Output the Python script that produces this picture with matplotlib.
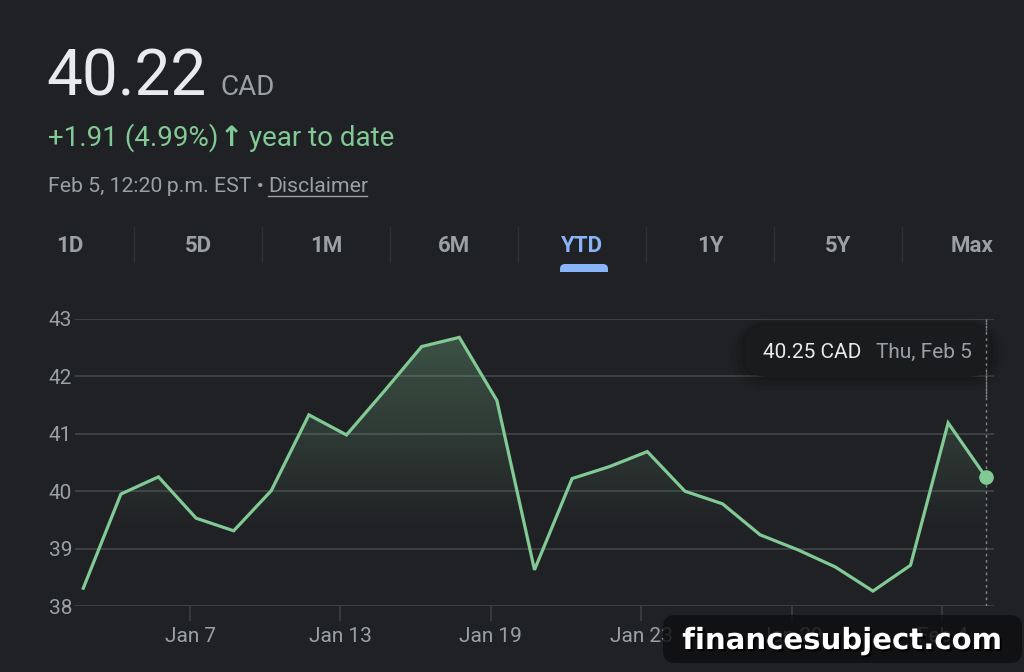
import numpy as np
import matplotlib
matplotlib.use("Agg")
import matplotlib.pyplot as plt
from matplotlib.patches import FancyBboxPatch
import matplotlib.patheffects as pe

# data
dates = ['Jan 2', 'Jan 5', 'Jan 6', 'Jan 7', 'Jan 8', 'Jan 9', 'Jan 12', 'Jan 13', 'Jan 14',
         'Jan 15', 'Jan 16', 'Jan 19', 'Jan 20', 'Jan 21', 'Jan 22', 'Jan 23', 'Jan 26',
         'Jan 27', 'Jan 28', 'Jan 29', 'Jan 30', 'Feb 2', 'Feb 3', 'Feb 4', 'Feb 5']
prices = [38.31, 39.95, 40.25, 39.53, 39.31, 40.01, 41.33, 40.98, 41.74, 42.52, 42.68, 41.58,
          38.63, 40.22, 40.43, 40.69, 40.00, 39.78, 39.24, 38.98, 38.68, 38.26, 38.71, 41.19, 40.25]
tick_dates = ['Jan 7', 'Jan 13', 'Jan 19', 'Jan 23', 'Jan 29', 'Feb 4']
y_ticks = [38, 39, 40, 41, 42, 43]
tabs = ['1D', '5D', '1M', '6M', 'YTD', '1Y', '5Y', 'Max']

BG = '#202124'
GRID = '#3c4043'
GREEN = '#81c995'
GREY = '#9aa0a6'
WHITE = '#e8eaed'
BLUE = '#8ab4f8'
FONT = ['Roboto', 'DejaVu Sans']
plt.rcParams['font.family'] = FONT

W, H = 1024, 672
fig = plt.figure(figsize=(W / 100, H / 100), dpi=100, facecolor=BG)

def fx(x):
    return x / W

def fy(y):
    return 1 - y / H

def box(x0, y0, x1, y1, r, color, alpha=1.0, z=1):
    # rounded box in pixel coords (y from top)
    p = FancyBboxPatch(((x0 + r) / 100, (H - y1 + r) / 100), (x1 - x0 - 2 * r) / 100,
                       (y1 - y0 - 2 * r) / 100, boxstyle=f'round,pad={r / 100}',
                       transform=fig.dpi_scale_trans, fc=color, ec='none', alpha=alpha, zorder=z)
    fig.patches.append(p)

def hline(x0, x1, y, **kw):
    fig.lines.append(plt.Line2D([fx(x0), fx(x1)], [fy(y), fy(y)], transform=fig.transFigure, **kw))

def vline(x, y0, y1, **kw):
    fig.lines.append(plt.Line2D([fx(x), fx(x)], [fy(y0), fy(y1)], transform=fig.transFigure, **kw))

# header
fig.text(fx(46), fy(95), '40.22', fontsize=46, color=WHITE, va='baseline')
fig.text(fx(220), fy(95), 'CAD', fontsize=20, color=GREY, va='baseline')
fig.text(fx(48), fy(146), '+1.91 (4.99%)', fontsize=20, color=GREEN, va='baseline')
fig.text(fx(220), fy(146), '\u2191', fontsize=20, fontweight='bold', family='DejaVu Sans',
         color=GREEN, va='baseline')
fig.text(fx(249), fy(146), 'year to date', fontsize=20, color=GREEN, va='baseline')
fig.text(fx(48), fy(192), 'Feb 5, 12:20\u2009p.m. EST \u2022', fontsize=15.3, color=GREY, va='baseline')
fig.text(fx(268), fy(192), 'Disclaimer', fontsize=15.3, color=GREY, va='baseline')
hline(268, 367, 195.5, color=GREY, lw=1)

# tabs
for i, t in enumerate(tabs):
    cx = 70 + 128 * i
    if t == 'Max':
        cx = 972
    fig.text(fx(cx), fy(246), t, fontsize=16, fontweight='bold', ha='center', va='center',
             color=BLUE if t == 'YTD' else GREY)
    if i < len(tabs) - 1:
        vline(134 + 128 * i, 227, 262, color='#303134', lw=1)
box(560, 264, 608, 280, 5, BLUE, z=2)
fig.patches.append(plt.Rectangle((fx(555), fy(282)), fx(60), fy(272) - fy(282),
                                 transform=fig.transFigure, fc=BG, ec='none', zorder=3))

# chart
ax = fig.add_axes([fx(75), fy(606), fx(994) - fx(75), fy(319) - fy(606)])
ax.set_facecolor(BG)
x = np.arange(len(prices))
for s in ax.spines.values():
    s.set_visible(False)
ax.set_yticks(y_ticks)
ax.set_yticklabels([str(v) for v in y_ticks])
ax.yaxis.grid(True, color=GRID, lw=1.4)
ax.set_axisbelow(True)
ax.tick_params(axis='y', length=0, pad=2, labelsize=15, labelcolor=GREY)
tick_pos = [dates.index(d) - 0.16 for d in tick_dates]
ax.set_xticks(tick_pos)
ax.set_xticklabels(tick_dates)
ax.tick_params(axis='x', length=11, width=1.2, color=GRID, pad=4, labelsize=15, labelcolor=GREY)

# gradient fill under the line
grad = np.zeros((200, 2, 4))
grad[..., :3] = matplotlib.colors.to_rgb(GREEN)
yy = np.linspace(43, 38, 200)
grad[..., 3] = np.clip((yy - 39.3) / (43 - 39.3), 0, 1)[:, None] * 0.32
poly = ax.fill_between(x, prices, 38, color='none', lw=0)
im = ax.imshow(grad, extent=[-0.22, 24.22, 38, 43], aspect='auto', zorder=1, interpolation='bilinear')
im.set_clip_path(poly.get_paths()[0], transform=ax.transData)
ax.set_xlim(-0.22, 24.22)
ax.set_ylim(38, 43)

ax.plot(x, prices, color=GREEN, lw=2.3, zorder=3, solid_joinstyle='miter')
ax.axvline(x[-1], color='#80868b', lw=1, ls=(0, (2, 2.5)), zorder=2)
ax.plot(x[-1], prices[-1], 'o', color=GREEN, ms=9.5, zorder=4)

# tooltip
for k, a in [(14, 0.06), (9, 0.08), (4, 0.10)]:
    box(745 - k, 325 - k * 0.4, 990 + k, 377 + k, 24 + k, '#000000', alpha=a, z=5)
box(745, 325, 990, 377, 22, '#1a1b1d', z=6)
vline(986, 319, 400, color='#80868b', lw=1, ls=(0, (2, 2.5)), zorder=6.5)
fig.text(fx(763), fy(352), '40.25 CAD', fontsize=15, color=WHITE, va='center', zorder=7)
fig.text(fx(876), fy(352), 'Thu, Feb 5', fontsize=15, color=GREY, va='center', zorder=7)

# watermark (semi-transparent, tick labels show through)
box(663, 615, 1022, 663, 12, '#0e0e10', alpha=0.82, z=8)
fig.text(fx(842), fy(641), 'financesubject.com', fontsize=21, fontweight='bold', color='white',
         family='DejaVu Sans', ha='center', va='center', zorder=9,
         path_effects=[pe.withSimplePatchShadow(offset=(1.5, -1.5), shadow_rgbFace='black', alpha=0.9)])

fig.savefig('out.png', dpi=100, facecolor=BG)
